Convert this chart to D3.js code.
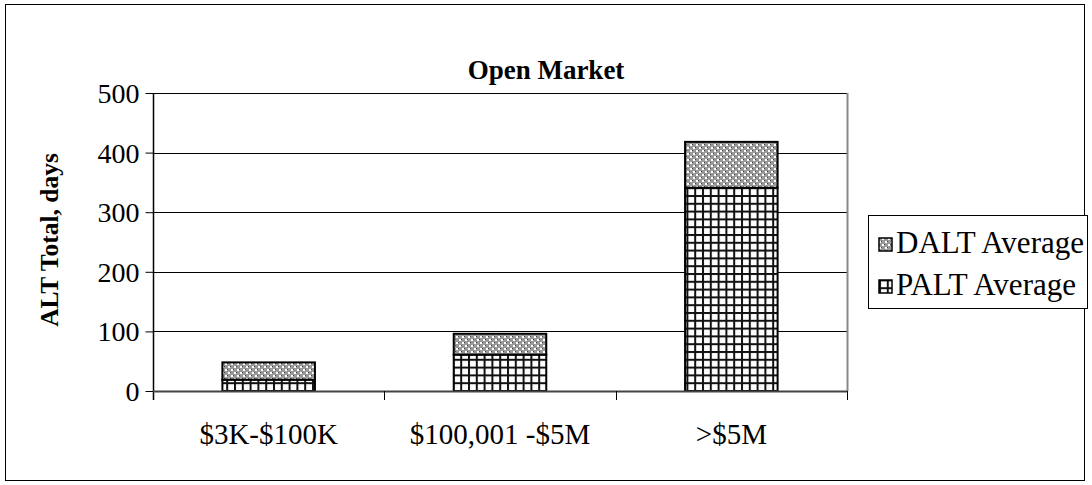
<!DOCTYPE html>
<html><head><meta charset="utf-8">
<script src="https://cdn.jsdelivr.net/npm/d3@7"></script>
<style>body{margin:0;background:#fff}svg{display:block}</style>
</head><body><svg id="c" width="1092" height="485"></svg>
<script>
const categories = ["$3K-$100K", "$100,001 -$5M", ">$5M"];
const paltValues = [19, 61, 341];
const daltValues = [29, 35, 77];
const seriesNames = ["PALT Average", "DALT Average"];
const yTicks = [0, 100, 200, 300, 400, 500];

const FF = "'Liberation Serif','Times New Roman',serif";
const svg = d3.select("#c");
const defs = svg.append("defs");
const pg = defs.append("pattern").attr("id","palt").attr("patternUnits","userSpaceOnUse")
  .attr("width",7.8).attr("height",7.8);
pg.append("rect").attr("width",7.8).attr("height",7.8).attr("fill","#fff");
pg.append("rect").attr("x",0).attr("y",0).attr("width",2).attr("height",7.8).attr("fill","#111");
pg.append("rect").attr("x",0).attr("y",0).attr("width",7.8).attr("height",2).attr("fill","#111");
const dg = defs.append("pattern").attr("id","dalt").attr("patternUnits","userSpaceOnUse")
  .attr("width",6).attr("height",6);
dg.append("rect").attr("width",6).attr("height",6).attr("fill","#999");
dg.append("rect").attr("x",0).attr("y",0).attr("width",2).attr("height",2).attr("fill","#fff");
dg.append("rect").attr("x",3).attr("y",3).attr("width",2).attr("height",2).attr("fill","#fff");
dg.append("rect").attr("x",2).attr("y",0).attr("width",1).attr("height",1).attr("fill","#444");
dg.append("rect").attr("x",5).attr("y",3).attr("width",1).attr("height",1).attr("fill","#444");

svg.append("rect").attr("x",5.5).attr("y",4.5).attr("width",1079).attr("height",476)
  .attr("fill","none").attr("stroke","#000").attr("stroke-width",1);

const m = {l:153, r:847, t:93, b:391};
const x = d3.scaleBand().domain(categories).range([m.l, m.r]).paddingInner(0.6).paddingOuter(0.3);
const xb = d3.scaleBand().domain(categories).range([m.l, m.r]);
const y = d3.scaleLinear().domain([0, 500]).range([m.b, m.t]);

svg.append("g").selectAll("line").data(yTicks.filter(d=>d>0)).join("line")
  .attr("x1",m.l).attr("x2",m.r).attr("y1",d=>Math.round(y(d))+0.5).attr("y2",d=>Math.round(y(d))+0.5)
  .attr("stroke","#000").attr("stroke-width",1);
svg.append("line").attr("x1",m.r+0.5).attr("x2",m.r+0.5).attr("y1",m.t).attr("y2",m.b)
  .attr("stroke","#888").attr("stroke-width",2);

const rows = categories.map((c,i)=>({cat:c, palt:paltValues[i], dalt:daltValues[i]}));
const stack = d3.stack().keys(["palt","dalt"])(rows);
const fills = {palt:"url(#palt)", dalt:"url(#dalt)"};
svg.append("g").selectAll("g").data(stack).join("g")
  .attr("fill", d=>fills[d.key])
  .selectAll("rect").data(d=>d).join("rect")
  .attr("x", d=>x(d.data.cat)).attr("width", x.bandwidth())
  .attr("y", d=>y(d[1])).attr("height", d=>y(d[0])-y(d[1]))
  .attr("stroke","#000").attr("stroke-width",2);

const ya = svg.append("g").attr("transform",`translate(${m.l+0.5},0)`)
  .call(d3.axisLeft(y).tickValues(yTicks).tickSize(8).tickPadding(6));
ya.attr("font-family",FF).attr("font-size",28);
ya.select(".domain").attr("stroke","#000").attr("stroke-width",1.5).attr("d",`M-0,${m.b+9}V${m.t}`);
ya.selectAll("text").attr("fill","#000").attr("dy","0.34em");
ya.selectAll(".tick line").attr("stroke","#000");

const xa = svg.append("g").attr("transform",`translate(0,${m.b+0.5})`)
  .call(d3.axisBottom(xb).tickSize(0).tickPadding(32));
xa.attr("font-family",FF).attr("font-size",29);
xa.select(".domain").attr("stroke","#444").attr("stroke-width",2).attr("d",`M${m.l},0H${m.r}`);
xa.selectAll("text").attr("fill","#000");
svg.append("g").selectAll("line").data(categories.slice(1)).join("line")
  .attr("x1",d=>Math.round(xb(d))+0.5).attr("x2",d=>Math.round(xb(d))+0.5)
  .attr("y1",m.b).attr("y2",m.b+9).attr("stroke","#000");
svg.append("line").attr("x1",m.r+0.5).attr("x2",m.r+0.5).attr("y1",m.b).attr("y2",m.b+9).attr("stroke","#000");

svg.append("text").attr("x",546).attr("y",79).attr("text-anchor","middle").attr("font-family",FF)
  .attr("font-size",27).attr("font-weight","bold").text("Open Market");
svg.append("text").attr("transform",`translate(58,${(m.t+m.b)/2-2}) rotate(-90)`).attr("font-family",FF)
  .attr("text-anchor","middle").attr("font-size",25.5).attr("font-weight","bold").text("ALT Total, days");

const lg = svg.append("g");
lg.append("rect").attr("x",868.5).attr("y",215.5).attr("width",219).attr("height",93)
  .attr("fill","#fff").attr("stroke","#000");
const legItems = [{k:"dalt",n:seriesNames[1]},{k:"palt",n:seriesNames[0]}];
const li = lg.selectAll("g.it").data(legItems).join("g").attr("class","it")
  .attr("transform",(d,i)=>`translate(879,${253+i*42})`);
li.append("rect").attr("x",0).attr("y",-15).attr("width",13).attr("height",13)
  .attr("fill",d=>fills[d.k]).attr("stroke","#000").attr("stroke-width",1.5);
li.append("text").attr("x",17).attr("y",0).attr("font-family",FF).attr("font-size",31).text(d=>d.n);
</script></body></html>
